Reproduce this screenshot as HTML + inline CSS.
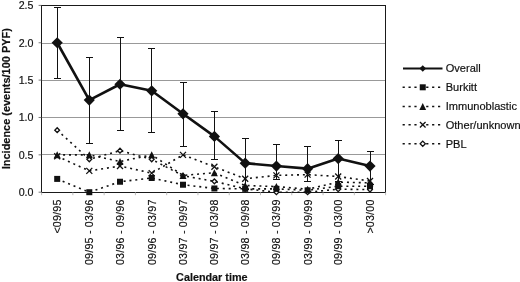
<!DOCTYPE html>
<html><head><meta charset="utf-8"><title>Incidence by calendar time</title>
<style>html,body{margin:0;padding:0;background:#fff}svg{display:block}text{stroke:#111;stroke-width:.18px}</style></head>
<body>
<svg width="520" height="282" viewBox="0 0 520 282" font-family="Liberation Sans, Arial, sans-serif" font-size="10.67" fill="#111"><g stroke="none">
<rect width="520" height="282" fill="#fff"/>
<line x1="41.6" x2="385.6" y1="154.5" y2="154.5" stroke="#999" stroke-width="1" shape-rendering="crispEdges"/>
<line x1="41.6" x2="385.6" y1="117.5" y2="117.5" stroke="#999" stroke-width="1" shape-rendering="crispEdges"/>
<line x1="41.6" x2="385.6" y1="80.5" y2="80.5" stroke="#999" stroke-width="1" shape-rendering="crispEdges"/>
<line x1="41.6" x2="385.6" y1="43.5" y2="43.5" stroke="#999" stroke-width="1" shape-rendering="crispEdges"/>
<rect x="41.6" y="5.4" width="344.0" height="186.79999999999998" fill="none" stroke="#1a1a1a" stroke-width="1" shape-rendering="crispEdges"/>
<line x1="38.6" x2="41.6" y1="192.20" y2="192.20" stroke="#555" stroke-width="0.8"/>
<text x="33.5" y="196.00" text-anchor="end">0.0</text>
<line x1="38.6" x2="41.6" y1="154.84" y2="154.84" stroke="#555" stroke-width="0.8"/>
<text x="33.5" y="158.64" text-anchor="end">0.5</text>
<line x1="38.6" x2="41.6" y1="117.48" y2="117.48" stroke="#555" stroke-width="0.8"/>
<text x="33.5" y="121.28" text-anchor="end">1.0</text>
<line x1="38.6" x2="41.6" y1="80.12" y2="80.12" stroke="#555" stroke-width="0.8"/>
<text x="33.5" y="83.92" text-anchor="end">1.5</text>
<line x1="38.6" x2="41.6" y1="42.76" y2="42.76" stroke="#555" stroke-width="0.8"/>
<text x="33.5" y="46.56" text-anchor="end">2.0</text>
<line x1="38.6" x2="41.6" y1="5.40" y2="5.40" stroke="#555" stroke-width="0.8"/>
<text x="33.5" y="9.20" text-anchor="end">2.5</text>
<line x1="41.60" x2="41.60" y1="192.2" y2="195.2" stroke="#aaa" stroke-width="0.8"/>
<line x1="72.87" x2="72.87" y1="192.2" y2="195.2" stroke="#aaa" stroke-width="0.8"/>
<line x1="104.15" x2="104.15" y1="192.2" y2="195.2" stroke="#aaa" stroke-width="0.8"/>
<line x1="135.42" x2="135.42" y1="192.2" y2="195.2" stroke="#aaa" stroke-width="0.8"/>
<line x1="166.69" x2="166.69" y1="192.2" y2="195.2" stroke="#aaa" stroke-width="0.8"/>
<line x1="197.96" x2="197.96" y1="192.2" y2="195.2" stroke="#aaa" stroke-width="0.8"/>
<line x1="229.24" x2="229.24" y1="192.2" y2="195.2" stroke="#aaa" stroke-width="0.8"/>
<line x1="260.51" x2="260.51" y1="192.2" y2="195.2" stroke="#aaa" stroke-width="0.8"/>
<line x1="291.78" x2="291.78" y1="192.2" y2="195.2" stroke="#aaa" stroke-width="0.8"/>
<line x1="323.05" x2="323.05" y1="192.2" y2="195.2" stroke="#aaa" stroke-width="0.8"/>
<line x1="354.33" x2="354.33" y1="192.2" y2="195.2" stroke="#aaa" stroke-width="0.8"/>
<line x1="385.60" x2="385.60" y1="192.2" y2="195.2" stroke="#aaa" stroke-width="0.8"/>
<text transform="translate(61.20,199.4) rotate(-90)" text-anchor="end" letter-spacing="0.22">&lt;09/95</text>
<text transform="translate(93.30,199.4) rotate(-90)" text-anchor="end" letter-spacing="0.22">09/95 - 03/96</text>
<text transform="translate(124.00,199.4) rotate(-90)" text-anchor="end" letter-spacing="0.22">03/96 - 09/96</text>
<text transform="translate(155.70,199.4) rotate(-90)" text-anchor="end" letter-spacing="0.22">09/96 - 03/97</text>
<text transform="translate(187.00,199.4) rotate(-90)" text-anchor="end" letter-spacing="0.22">03/97 - 09/97</text>
<text transform="translate(218.40,199.4) rotate(-90)" text-anchor="end" letter-spacing="0.22">09/97 - 03/98</text>
<text transform="translate(249.20,199.4) rotate(-90)" text-anchor="end" letter-spacing="0.22">03/98 - 09/98</text>
<text transform="translate(280.40,199.4) rotate(-90)" text-anchor="end" letter-spacing="0.22">09/98 - 03/99</text>
<text transform="translate(311.60,199.4) rotate(-90)" text-anchor="end" letter-spacing="0.22">03/99 - 09/99</text>
<text transform="translate(342.20,199.4) rotate(-90)" text-anchor="end" letter-spacing="0.22">09/99 - 03/00</text>
<text transform="translate(374.00,199.4) rotate(-90)" text-anchor="end" letter-spacing="0.22">&gt;03/00</text>
<text x="211.8" y="280.8" text-anchor="middle" font-weight="bold" font-size="10.8">Calendar time</text>
<text transform="translate(10.0,98.7) rotate(-90)" text-anchor="middle" font-weight="bold" font-size="10.95">Incidence (events/100 PYF)</text>
<polyline points="57.20,178.90 89.30,192.20 120.00,181.74 151.70,178.00 183.00,184.73 214.40,188.46 245.20,188.84 276.40,188.84 307.60,190.33 338.20,186.22 370.00,186.22" fill="none" stroke="#111" stroke-width="1.6" stroke-dasharray="2.0,3.9"/>
<polyline points="57.20,154.84 89.30,154.84 120.00,161.56 151.70,154.84 183.00,175.39 214.40,172.77 245.20,185.48 276.40,186.60 307.60,189.21 338.20,182.11 370.00,182.86" fill="none" stroke="#111" stroke-width="1.6" stroke-dasharray="2.0,3.9"/>
<polyline points="57.20,156.33 89.30,170.90 120.00,166.05 151.70,173.15 183.00,154.84 214.40,166.80 245.20,178.75 276.40,175.39 307.60,174.64 338.20,176.51 370.00,180.99" fill="none" stroke="#111" stroke-width="1.6" stroke-dasharray="2.0,3.9"/>
<polyline points="57.20,130.18 89.30,159.32 120.00,150.66 151.70,159.32 183.00,175.76 214.40,181.37 245.20,188.84 276.40,192.20 307.60,192.20 338.20,189.21 370.00,189.58" fill="none" stroke="#111" stroke-width="1.6" stroke-dasharray="2.0,3.9"/>
<polygon points="57.20,127.78 59.60,130.18 57.20,132.58 54.80,130.18" fill="#fff" stroke="#111" stroke-width="1.3"/>
<polygon points="89.30,156.92 91.70,159.32 89.30,161.72 86.90,159.32" fill="#fff" stroke="#111" stroke-width="1.3"/>
<polygon points="120.00,148.26 122.40,150.66 120.00,153.06 117.60,150.66" fill="#fff" stroke="#111" stroke-width="1.3"/>
<polygon points="151.70,156.92 154.10,159.32 151.70,161.72 149.30,159.32" fill="#fff" stroke="#111" stroke-width="1.3"/>
<polygon points="183.00,173.36 185.40,175.76 183.00,178.16 180.60,175.76" fill="#fff" stroke="#111" stroke-width="1.3"/>
<polygon points="214.40,178.97 216.80,181.37 214.40,183.77 212.00,181.37" fill="#fff" stroke="#111" stroke-width="1.3"/>
<polygon points="245.20,186.44 247.60,188.84 245.20,191.24 242.80,188.84" fill="#fff" stroke="#111" stroke-width="1.3"/>
<polygon points="276.40,189.80 278.80,192.20 276.40,194.60 274.00,192.20" fill="#fff" stroke="#111" stroke-width="1.3"/>
<polygon points="307.60,189.80 310.00,192.20 307.60,194.60 305.20,192.20" fill="#fff" stroke="#111" stroke-width="1.3"/>
<polygon points="338.20,186.81 340.60,189.21 338.20,191.61 335.80,189.21" fill="#fff" stroke="#111" stroke-width="1.3"/>
<polygon points="370.00,187.18 372.40,189.58 370.00,191.98 367.60,189.58" fill="#fff" stroke="#111" stroke-width="1.3"/>
<path d="M54.20,153.33L60.20,159.33M54.20,159.33L60.20,153.33" stroke="#111" stroke-width="1.3" fill="none"/>
<path d="M86.30,167.90L92.30,173.90M86.30,173.90L92.30,167.90" stroke="#111" stroke-width="1.3" fill="none"/>
<path d="M117.00,163.05L123.00,169.05M117.00,169.05L123.00,163.05" stroke="#111" stroke-width="1.3" fill="none"/>
<path d="M148.70,170.15L154.70,176.15M148.70,176.15L154.70,170.15" stroke="#111" stroke-width="1.3" fill="none"/>
<path d="M180.00,151.84L186.00,157.84M180.00,157.84L186.00,151.84" stroke="#111" stroke-width="1.3" fill="none"/>
<path d="M211.40,163.80L217.40,169.80M211.40,169.80L217.40,163.80" stroke="#111" stroke-width="1.3" fill="none"/>
<path d="M242.20,175.75L248.20,181.75M242.20,181.75L248.20,175.75" stroke="#111" stroke-width="1.3" fill="none"/>
<path d="M273.40,172.39L279.40,178.39M273.40,178.39L279.40,172.39" stroke="#111" stroke-width="1.3" fill="none"/>
<path d="M304.60,171.64L310.60,177.64M304.60,177.64L310.60,171.64" stroke="#111" stroke-width="1.3" fill="none"/>
<path d="M335.20,173.51L341.20,179.51M335.20,179.51L341.20,173.51" stroke="#111" stroke-width="1.3" fill="none"/>
<path d="M367.00,177.99L373.00,183.99M367.00,183.99L373.00,177.99" stroke="#111" stroke-width="1.3" fill="none"/>
<polygon points="57.20,151.34 60.70,158.34 53.70,158.34" fill="#111"/>
<polygon points="89.30,151.34 92.80,158.34 85.80,158.34" fill="#111"/>
<polygon points="120.00,158.06 123.50,165.06 116.50,165.06" fill="#111"/>
<polygon points="151.70,151.34 155.20,158.34 148.20,158.34" fill="#111"/>
<polygon points="183.00,171.89 186.50,178.89 179.50,178.89" fill="#111"/>
<polygon points="214.40,169.27 217.90,176.27 210.90,176.27" fill="#111"/>
<polygon points="245.20,181.98 248.70,188.98 241.70,188.98" fill="#111"/>
<polygon points="276.40,183.10 279.90,190.10 272.90,190.10" fill="#111"/>
<polygon points="307.60,185.71 311.10,192.71 304.10,192.71" fill="#111"/>
<polygon points="338.20,178.61 341.70,185.61 334.70,185.61" fill="#111"/>
<polygon points="370.00,179.36 373.50,186.36 366.50,186.36" fill="#111"/>
<rect x="54.20" y="175.90" width="6" height="6" fill="#111"/>
<rect x="86.30" y="189.20" width="6" height="6" fill="#111"/>
<rect x="117.00" y="178.74" width="6" height="6" fill="#111"/>
<rect x="148.70" y="175.00" width="6" height="6" fill="#111"/>
<rect x="180.00" y="181.73" width="6" height="6" fill="#111"/>
<rect x="211.40" y="185.46" width="6" height="6" fill="#111"/>
<rect x="242.20" y="185.84" width="6" height="6" fill="#111"/>
<rect x="273.40" y="185.84" width="6" height="6" fill="#111"/>
<rect x="304.60" y="187.33" width="6" height="6" fill="#111"/>
<rect x="335.20" y="183.22" width="6" height="6" fill="#111"/>
<rect x="367.00" y="183.22" width="6" height="6" fill="#111"/>
<path d="M57.20,7.5V78.75M53.70,7.5h7M53.70,78.75h7" stroke="#111" stroke-width="1" fill="none" shape-rendering="crispEdges"/>
<path d="M89.30,57V143.75M85.80,57h7M85.80,143.75h7" stroke="#111" stroke-width="1" fill="none" shape-rendering="crispEdges"/>
<path d="M120.00,37V130M116.50,37h7M116.50,130h7" stroke="#111" stroke-width="1" fill="none" shape-rendering="crispEdges"/>
<path d="M151.70,48V132.5M148.20,48h7M148.20,132.5h7" stroke="#111" stroke-width="1" fill="none" shape-rendering="crispEdges"/>
<path d="M183.00,82.5V146.25M179.50,82.5h7M179.50,146.25h7" stroke="#111" stroke-width="1" fill="none" shape-rendering="crispEdges"/>
<path d="M214.40,111.25V159.5M210.90,111.25h7M210.90,159.5h7" stroke="#111" stroke-width="1" fill="none" shape-rendering="crispEdges"/>
<path d="M245.20,138.9V189.6M241.70,138.9h7M241.70,189.6h7" stroke="#111" stroke-width="1" fill="none" shape-rendering="crispEdges"/>
<path d="M276.40,144.4V179.8M272.90,144.4h7M272.90,179.8h7" stroke="#111" stroke-width="1" fill="none" shape-rendering="crispEdges"/>
<path d="M307.60,146.4V181.8M304.10,146.4h7M304.10,181.8h7" stroke="#111" stroke-width="1" fill="none" shape-rendering="crispEdges"/>
<path d="M338.20,140.2V181M334.70,140.2h7M334.70,181h7" stroke="#111" stroke-width="1" fill="none" shape-rendering="crispEdges"/>
<path d="M370.00,151.5V184.5M366.50,151.5h7M366.50,184.5h7" stroke="#111" stroke-width="1" fill="none" shape-rendering="crispEdges"/>
<polyline points="57.20,42.76 89.30,100.07 120.00,84.23 151.70,90.80 183.00,113.82 214.40,136.38 245.20,163.13 276.40,166.05 307.60,168.66 338.20,158.58 370.00,166.05" fill="none" stroke="#111" stroke-width="2.6" stroke-linejoin="round"/>
<polygon points="57.20,37.16 62.80,42.76 57.20,48.36 51.60,42.76" fill="#111"/>
<polygon points="89.30,94.47 94.90,100.07 89.30,105.67 83.70,100.07" fill="#111"/>
<polygon points="120.00,78.63 125.60,84.23 120.00,89.83 114.40,84.23" fill="#111"/>
<polygon points="151.70,85.20 157.30,90.80 151.70,96.40 146.10,90.80" fill="#111"/>
<polygon points="183.00,108.22 188.60,113.82 183.00,119.42 177.40,113.82" fill="#111"/>
<polygon points="214.40,130.78 220.00,136.38 214.40,141.98 208.80,136.38" fill="#111"/>
<polygon points="245.20,157.53 250.80,163.13 245.20,168.73 239.60,163.13" fill="#111"/>
<polygon points="276.40,160.45 282.00,166.05 276.40,171.65 270.80,166.05" fill="#111"/>
<polygon points="307.60,163.06 313.20,168.66 307.60,174.26 302.00,168.66" fill="#111"/>
<polygon points="338.20,152.98 343.80,158.58 338.20,164.18 332.60,158.58" fill="#111"/>
<polygon points="370.00,160.45 375.60,166.05 370.00,171.65 364.40,166.05" fill="#111"/>
<line x1="403.0" x2="442.5" y1="68.5" y2="68.5" stroke="#111" stroke-width="2.2"/>
<polygon points="422.75,65.20 426.05,68.50 422.75,71.80 419.45,68.50" fill="#111"/>
<text x="445.7" y="72.4" font-size="11.05">Overall</text>
<line x1="402.6" x2="442.5" y1="87.3" y2="87.3" stroke="#111" stroke-width="1.5" stroke-dasharray="2.2,3.7"/>
<rect x="419.75" y="85.3" width="6" height="4" fill="#fff"/>
<rect x="419.75" y="84.30" width="6.0" height="6.0" fill="#111"/>
<text x="445.7" y="91.2" font-size="11.05">Burkitt</text>
<line x1="402.6" x2="442.5" y1="106.5" y2="106.5" stroke="#111" stroke-width="1.5" stroke-dasharray="2.2,3.7"/>
<rect x="419.75" y="104.5" width="6" height="4" fill="#fff"/>
<polygon points="422.75,103.10 426.15,109.90 419.35,109.90" fill="#111"/>
<text x="445.7" y="110.4" font-size="11.05">Immunoblastic</text>
<line x1="402.6" x2="442.5" y1="124.75" y2="124.75" stroke="#111" stroke-width="1.5" stroke-dasharray="2.2,3.7"/>
<rect x="419.75" y="122.75" width="6" height="4" fill="#fff"/>
<path d="M419.95,121.95L425.55,127.55M419.95,127.55L425.55,121.95" stroke="#111" stroke-width="1.3" fill="none"/>
<text x="445.7" y="128.65" font-size="11.05">Other/unknown</text>
<line x1="402.6" x2="442.5" y1="143.75" y2="143.75" stroke="#111" stroke-width="1.5" stroke-dasharray="2.2,3.7"/>
<rect x="419.75" y="141.75" width="6" height="4" fill="#fff"/>
<polygon points="422.75,141.15 425.35,143.75 422.75,146.35 420.15,143.75" fill="#fff" stroke="#111" stroke-width="1.3"/>
<text x="445.7" y="147.65" font-size="11.05">PBL</text>
</g></svg>
</body></html>
